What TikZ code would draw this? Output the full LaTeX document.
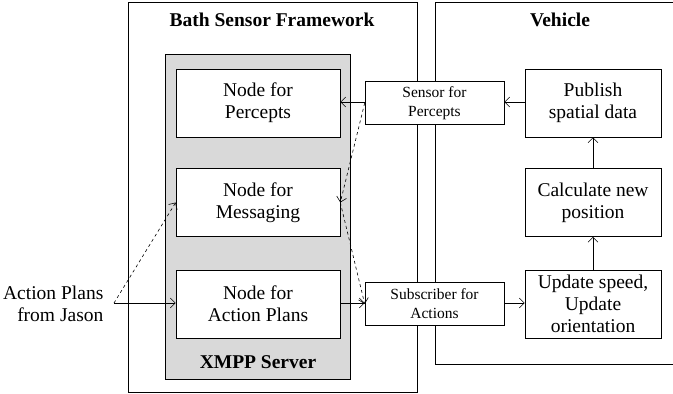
\documentclass[tikz,border=0pt]{standalone}
\usepackage{fontspec}
\setmainfont{Liberation Serif}
\usetikzlibrary{arrows.meta,calc,positioning}

\tikzset{
  blk/.style={draw, fill=white, inner sep=1pt, minimum width=164pt, minimum height=68pt,
    align=center, font=\fontsize{19.5}{22}\selectfont},
  vblk/.style={blk, minimum width=136pt},
  small/.style={draw, fill=white, inner sep=1pt, minimum width=139pt, minimum height=43pt,
    align=center, font=\fontsize{15.5}{19}\selectfont},
  ttl/.style={font=\fontsize{19.5}{20}\selectfont\bfseries},
}

\begin{document}
\begin{tikzpicture}[x=1pt, y=-1pt, line width=0.6pt, >={Straight Barb[length=5pt,width=10pt]}]
        \useasboundingbox (0,0) rectangle (673,394);
        \draw (128,2) rectangle (417,392);
        \draw (673,2) -- (435,2) -- (435,364) -- (673,364);
        \filldraw[fill=black!15] (165,54) rectangle (350,379);

        \node[ttl] (bsf) at (272,20) {Bath Sensor Framework};
        \node[ttl] (veh) at (560,20) {Vehicle};
        \node[ttl] (xmpp) at (258,362) {XMPP Server};

        \node[blk] (percepts) at (258,103) {Node for\\Percepts};
        \node[blk] (msg) at (258,202.5) {Node for\\Messaging};
        \node[blk] (plans) at (258,304) {Node for\\Action Plans};

        \node[small] (sensor) at (434.5,103) {Sensor for\\Percepts};
        \node[small] (sub) at (434.5,304) {Subscriber for\\Actions};

        \node[vblk] (publish) at (593,103) {Publish\\spatial data};
        \node[vblk] (calcpos) at (593,202.5) {Calculate new\\position};
        \node[vblk] (update) at (593,304) {Update speed,\\Update\\orientation};

        \node[align=right, font=\fontsize{19.5}{22}\selectfont, anchor=east] (jason) at (107,304) {Action Plans\\from Jason};
        \coordinate (jsrc) at (114,303);

        \draw[->] (jsrc) -- (jsrc -| plans.west);
        \draw[->, dashed] (jsrc) -- (msg.west);
        \draw[->] (sensor.west |- 0,102) -- (percepts.east |- 0,102);
        \draw[->, dashed] (sensor.west) -- (msg.east);
        \draw[->, dashed] (msg.east) -- (sub.west);
        \draw[->] (plans.east |- 0,303) -- (sub.west |- 0,303);
        \draw[->] (sub.east |- 0,303) -- (update.west |- 0,303);
        \draw[->] (update) -- (calcpos);
        \draw[->] (calcpos) -- (publish);
        \draw[->] (publish.west |- 0,102) -- (sensor.east |- 0,102);
    \end{tikzpicture}
\end{document}
